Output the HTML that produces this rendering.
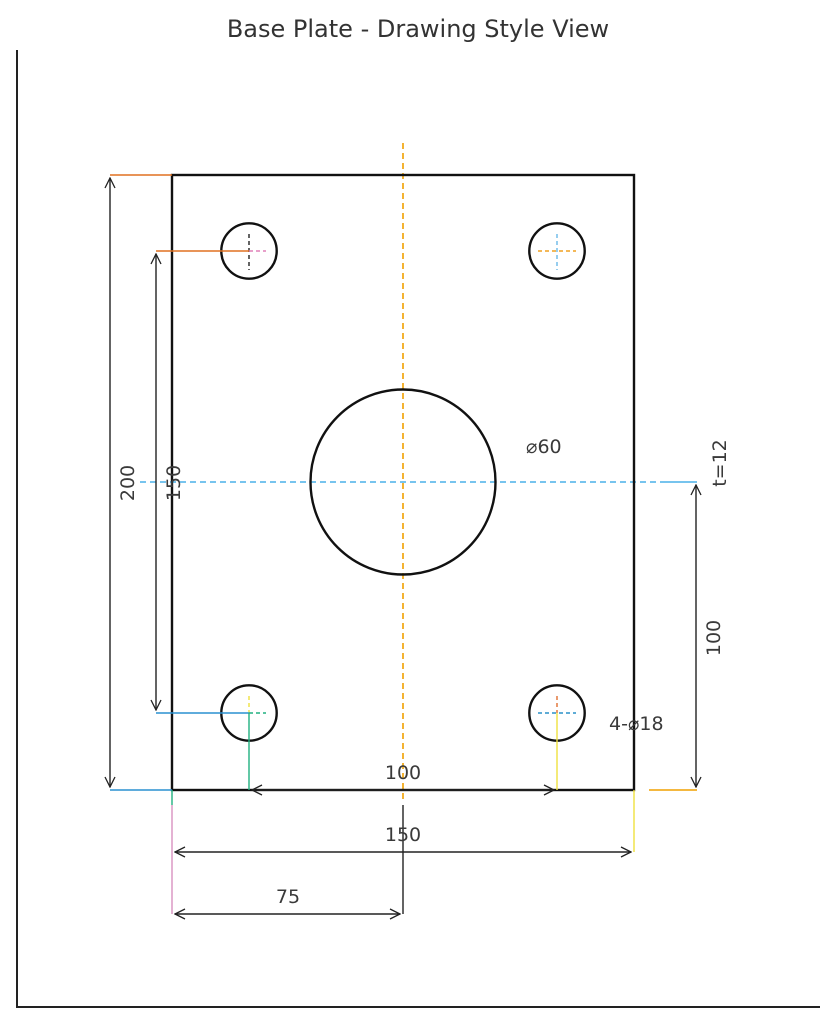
<!DOCTYPE html>
<html><head><style>body{margin:0;background:#fff}svg{display:block}</style></head>
<body>
<svg width="836" height="1024" viewBox="0 0 836 1024" xmlns="http://www.w3.org/2000/svg" font-family="DejaVu Sans, Liberation Sans, sans-serif">
<defs>
<marker id="a" viewBox="0 0 12 12" refX="11" refY="6" markerWidth="12" markerHeight="12" markerUnits="userSpaceOnUse" orient="auto-start-reverse"><path d="M1,1 L11,6 L1,11" fill="none" stroke="#222" stroke-width="1.3"/></marker>
</defs>
<text x="418" y="37" font-size="24" fill="#333" text-anchor="middle">Base Plate - Drawing Style View</text>
<path d="M17,50 V1007 H820" fill="none" stroke="#222" stroke-width="2"/>
<line x1="403" y1="143" x2="403" y2="803" stroke="#f0a000" stroke-width="1.6" stroke-dasharray="6,4"/>
<line x1="140" y1="482" x2="660" y2="482" stroke="#4ab0e8" stroke-width="1.6" stroke-dasharray="6,4"/>
<line x1="660" y1="482" x2="697" y2="482" stroke="#4ab0e8" stroke-width="1.4"/>
<line x1="403" y1="805" x2="403" y2="914" stroke="#222" stroke-width="1.4"/>
<rect x="172" y="175" width="462" height="615" fill="none" stroke="#111" stroke-width="2.4"/>
<circle cx="403" cy="482" r="92.5" fill="none" stroke="#111" stroke-width="2.4"/>
<circle cx="249" cy="251" r="27.7" fill="none" stroke="#111" stroke-width="2.4"/>
<circle cx="557" cy="251" r="27.7" fill="none" stroke="#111" stroke-width="2.4"/>
<circle cx="249" cy="713" r="27.7" fill="none" stroke="#111" stroke-width="2.4"/>
<circle cx="557" cy="713" r="27.7" fill="none" stroke="#111" stroke-width="2.4"/>
<line x1="249" y1="234" x2="249" y2="270" stroke="#222" stroke-width="1.4" stroke-dasharray="4,3"/>
<line x1="249" y1="251" x2="266" y2="251" stroke="#e080b8" stroke-width="1.4" stroke-dasharray="4,3"/>
<line x1="557" y1="234" x2="557" y2="270" stroke="#6ab8e8" stroke-width="1.4" stroke-dasharray="4,3"/>
<line x1="538" y1="251" x2="576" y2="251" stroke="#f0a020" stroke-width="1.4" stroke-dasharray="4,3"/>
<line x1="249" y1="696" x2="249" y2="713" stroke="#f0e040" stroke-width="1.4" stroke-dasharray="4,3"/>
<line x1="249" y1="713" x2="266" y2="713" stroke="#20b080" stroke-width="1.4" stroke-dasharray="4,3"/>
<line x1="557" y1="696" x2="557" y2="713" stroke="#e07030" stroke-width="1.4" stroke-dasharray="4,3"/>
<line x1="538" y1="713" x2="576" y2="713" stroke="#2a90c8" stroke-width="1.4" stroke-dasharray="4,3"/>
<line x1="110" y1="175" x2="172" y2="175" stroke="#e07020" stroke-width="1.4"/>
<line x1="156" y1="251" x2="249" y2="251" stroke="#e07020" stroke-width="1.4"/>
<line x1="156" y1="713" x2="249" y2="713" stroke="#2a90d0" stroke-width="1.4"/>
<line x1="110" y1="790" x2="172" y2="790" stroke="#2a90d0" stroke-width="1.4"/>
<line x1="249" y1="713" x2="249" y2="790" stroke="#20b080" stroke-width="1.4"/>
<line x1="557" y1="713" x2="557" y2="790" stroke="#f0e040" stroke-width="1.4"/>
<line x1="172" y1="790" x2="172" y2="805" stroke="#20b080" stroke-width="1.4"/>
<line x1="172" y1="805" x2="172" y2="914" stroke="#d890c0" stroke-width="1.4"/>
<line x1="634" y1="790" x2="634" y2="852" stroke="#f0e040" stroke-width="1.4"/>
<line x1="649" y1="790" x2="697" y2="790" stroke="#f0a000" stroke-width="1.4"/>
<g stroke="#222" stroke-width="1.4" fill="none">
<line x1="110" y1="178" x2="110" y2="787" marker-start="url(#a)" marker-end="url(#a)"/>
<line x1="156" y1="254" x2="156" y2="710" marker-start="url(#a)" marker-end="url(#a)"/>
<line x1="696" y1="485" x2="696" y2="787" marker-start="url(#a)" marker-end="url(#a)"/>
<line x1="252" y1="790" x2="554" y2="790" marker-start="url(#a)" marker-end="url(#a)"/>
<line x1="175" y1="852" x2="631" y2="852" marker-start="url(#a)" marker-end="url(#a)"/>
<line x1="175" y1="914" x2="400" y2="914" marker-start="url(#a)" marker-end="url(#a)"/>
</g>
<g font-size="19" fill="#3a3a3a">
<text x="134" y="483" text-anchor="middle" transform="rotate(-90 134 483)">200</text>
<text x="180" y="483" text-anchor="middle" transform="rotate(-90 180 483)">150</text>
<text x="720" y="638" text-anchor="middle" transform="rotate(-90 720 638)">100</text>
<text x="726" y="463" text-anchor="middle" transform="rotate(-90 726 463)">t=12</text>
<text x="403" y="779" text-anchor="middle">100</text>
<text x="403" y="841" text-anchor="middle">150</text>
<text x="288" y="903" text-anchor="middle">75</text>
<text x="526" y="453">⌀60</text>
<text x="609" y="730">4-⌀18</text>
</g>
</svg>
</body></html>
